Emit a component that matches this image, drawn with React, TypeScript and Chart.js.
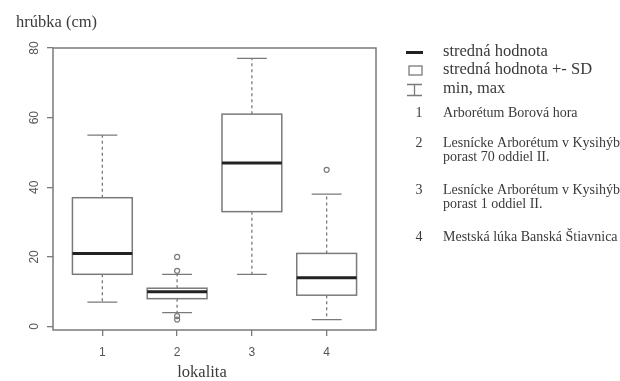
import React, { useEffect, useRef } from "react";
import { Chart, registerables } from "chart.js";

Chart.register(...registerables);

const categories = ["1", "2", "3", "4"];
const whiskerMin = [7, 4, 15, 2];
const boxLow = [15, 8, 33, 9];
const medians = [21, 10, 47, 14];
const boxHigh = [37, 11, 61, 21];
const whiskerMax = [55, 15, 77, 38];
const outliers = [[], [20, 16, 3, 2], [], [45]];
const yTicks = [0, 20, 40, 60, 80];

const yTitle = "hrúbka (cm)";
const xTitle = "lokalita";
const legendMain = ["stredná hodnota", "stredná hodnota +- SD", "min, max"];
const siteNames = [
  ["Arborétum Borová hora"],
  ["Lesnícke Arborétum v Kysihýbli", "porast 70 oddiel II."],
  ["Lesnícke Arborétum v Kysihýbli", "porast 1 oddiel II."],
  ["Mestská lúka Banská Štiavnica"],
];

const GRAY = "#7a7a7a";
const TEXT = "#3a3a3a";
const SERIF = "'Liberation Serif', 'Times New Roman', serif";
const SANS = "'Liberation Sans', Arial, sans-serif";

const boxPlugin = {
  id: "boxPlugin",
  beforeDatasetsDraw(chart: any) {
    const { ctx, scales } = chart;
    const xs = scales.x;
    const ys = scales.y;
    const halfW = xs.getPixelForValue(1.4) - xs.getPixelForValue(1);
    const capW = xs.getPixelForValue(1.2) - xs.getPixelForValue(1);
    ctx.save();
    categories.forEach((_, i) => {
      const cx = xs.getPixelForValue(i + 1);
      const yMin = ys.getPixelForValue(whiskerMin[i]);
      const yLo = ys.getPixelForValue(boxLow[i]);
      const yMed = ys.getPixelForValue(medians[i]);
      const yHi = ys.getPixelForValue(boxHigh[i]);
      const yMax = ys.getPixelForValue(whiskerMax[i]);
      ctx.strokeStyle = GRAY;
      ctx.lineWidth = 1.3;
      ctx.setLineDash([3, 3]);
      ctx.beginPath();
      ctx.moveTo(cx, yLo);
      ctx.lineTo(cx, yMin);
      ctx.moveTo(cx, yHi);
      ctx.lineTo(cx, yMax);
      ctx.stroke();
      ctx.setLineDash([]);
      ctx.beginPath();
      ctx.moveTo(cx - capW, yMin);
      ctx.lineTo(cx + capW, yMin);
      ctx.moveTo(cx - capW, yMax);
      ctx.lineTo(cx + capW, yMax);
      ctx.stroke();
      ctx.fillStyle = "#ffffff";
      ctx.fillRect(cx - halfW, yHi, 2 * halfW, yLo - yHi);
      ctx.lineWidth = 1.5;
      ctx.strokeRect(cx - halfW, yHi, 2 * halfW, yLo - yHi);
      ctx.strokeStyle = "#222222";
      ctx.lineWidth = 3;
      ctx.beginPath();
      ctx.moveTo(cx - halfW, yMed);
      ctx.lineTo(cx + halfW, yMed);
      ctx.stroke();
    });
    ctx.restore();
  },
  afterDraw(chart: any) {
    const { ctx, chartArea, scales } = chart;
    const ys = scales.y;
    ctx.save();
    ctx.strokeStyle = GRAY;
    ctx.lineWidth = 1.5;
    ctx.strokeRect(chartArea.left, chartArea.top, chartArea.right - chartArea.left, chartArea.bottom - chartArea.top);
    ctx.fillStyle = "#555555";
    ctx.font = `12px ${SANS}`;
    ctx.textAlign = "center";
    ctx.textBaseline = "middle";
    yTicks.forEach((v) => {
      const py = ys.getPixelForValue(v);
      ctx.save();
      ctx.translate(35, py);
      ctx.rotate(-Math.PI / 2);
      ctx.fillText(String(v), 0, 0);
      ctx.restore();
    });
    ctx.fillStyle = TEXT;
    ctx.font = `16.5px ${SERIF}`;
    ctx.textAlign = "left";
    ctx.fillText(yTitle, 16, 23);
    ctx.textAlign = "center";
    ctx.fillText(xTitle, 202, 373);
    ctx.strokeStyle = "#222222";
    ctx.lineWidth = 3;
    ctx.beginPath();
    ctx.moveTo(406, 52.5);
    ctx.lineTo(423, 52.5);
    ctx.stroke();
    ctx.strokeStyle = GRAY;
    ctx.lineWidth = 1.3;
    ctx.strokeRect(409, 66, 13, 9);
    ctx.beginPath();
    ctx.moveTo(407, 84.5);
    ctx.lineTo(422, 84.5);
    ctx.moveTo(407, 95.5);
    ctx.lineTo(422, 95.5);
    ctx.moveTo(414.5, 84.5);
    ctx.lineTo(414.5, 95.5);
    ctx.stroke();
    ctx.fillStyle = TEXT;
    ctx.font = `16.5px ${SERIF}`;
    ctx.textAlign = "left";
    const mainY = [52, 70, 89];
    legendMain.forEach((t, i) => ctx.fillText(t, 443, mainY[i]));
    ctx.font = `14px ${SERIF}`;
    const siteY = [113, 143, 190, 237];
    siteNames.forEach((lines, i) => {
      ctx.textAlign = "center";
      ctx.fillText(categories[i], 419, siteY[i]);
      ctx.textAlign = "left";
      lines.forEach((ln, j) => ctx.fillText(ln, 443, siteY[i] + j * 14));
    });
    ctx.restore();
  },
};

export default function App() {
  const ref = useRef<HTMLCanvasElement | null>(null);
  useEffect(() => {
    if (!ref.current) return;
    const points: { x: number; y: number }[] = [];
    outliers.forEach((arr, i) => arr.forEach((v) => points.push({ x: i + 1, y: v })));
    const chart = new Chart(ref.current, {
      type: "scatter",
      data: {
        datasets: [
          {
            label: "outliers",
            data: points,
            pointStyle: "circle",
            pointRadius: 2.5,
            pointBorderColor: GRAY,
            pointBackgroundColor: "rgba(0,0,0,0)",
            pointBorderWidth: 1.2,
          } as any,
        ],
      },
      options: {
        animation: false,
        responsive: false,
        layout: { padding: { left: 0, top: 48, right: 244, bottom: 0 } },
        plugins: { legend: { display: false }, tooltip: { enabled: false } },
        scales: {
          x: {
            type: "linear",
            min: 0.34,
            max: 4.66,
            afterBuildTicks: (s: any) => {
              s.ticks = categories.map((_, i) => ({ value: i + 1 }));
            },
            afterFit: (s: any) => {
              s.height = 51;
            },
            ticks: {
              callback: (v: any) => categories[Math.round(v) - 1] ?? "",
              font: { family: SANS, size: 12 },
              color: "#555555",
              padding: 9,
              maxRotation: 0,
              minRotation: 0,
            },
            grid: { drawOnChartArea: false, drawTicks: true, tickLength: 6, color: GRAY, lineWidth: 1.3 },
            border: { display: false },
          },
          y: {
            type: "linear",
            min: -1,
            max: 80,
            afterBuildTicks: (s: any) => {
              s.ticks = yTicks.map((v) => ({ value: v }));
            },
            afterFit: (s: any) => {
              s.width = 53;
            },
            ticks: { display: false },
            grid: { drawOnChartArea: false, drawTicks: true, tickLength: 6, color: GRAY, lineWidth: 1.3 },
            border: { display: false },
          },
        },
      },
      plugins: [boxPlugin],
    });
    return () => chart.destroy();
  }, []);
  return (
    <div style={{ position: "absolute", left: 0, top: 0, width: 620, height: 381, background: "#ffffff" }}>
      <canvas ref={ref} width={620} height={381} />
    </div>
  );
}
